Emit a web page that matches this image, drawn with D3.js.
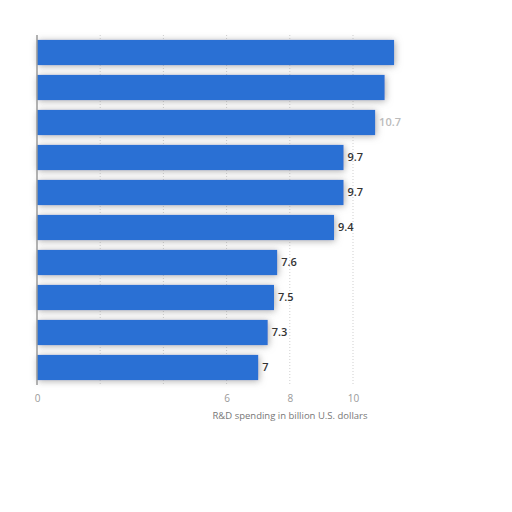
<!DOCTYPE html>
<html>
<head>
<meta charset="utf-8">
<script src="https://cdn.jsdelivr.net/npm/d3@7"></script>
<style>
  body { margin: 0; background: #fff; }
  svg { font-family: "Open Sans", "DejaVu Sans", sans-serif; }
</style>
</head>
<body>
<div id="chart"></div>
<script>
// chart data
const ranks = ["1", "2", "3", "4", "5", "6", "7", "8", "9", "10"];
const spending = [11.3, 11.0, 10.7, 9.7, 9.7, 9.4, 7.6, 7.5, 7.3, 7];
const shownLabels = [false, false, true, true, true, true, true, true, true, true];
const gridValues = [0, 2, 4, 6, 8, 10];
const tickLabels = [0, 6, 8, 10];
const axisTitle = "R&D spending in billion U.S. dollars";

const width = 512;
const height = 512;

const rows = spending.map((v, i) => ({ rank: ranks[i], value: v, label: shownLabels[i], i: i }));

const svg = d3.select("#chart")
    .append("svg")
    .attr("width", width)
    .attr("height", height);

// soft grey shadow under the bars
const defs = svg.append("defs");
const shadow = defs.append("filter")
    .attr("id", "shadow")
    .attr("x", "-5%").attr("y", "-50%")
    .attr("width", "115%").attr("height", "200%");
shadow.append("feDropShadow")
    .attr("dx", 1).attr("dy", 1)
    .attr("stdDeviation", 3.5)
    .attr("flood-color", "#888")
    .attr("flood-opacity", 0.7);

const xScale = d3.scaleLinear()
    .domain([0, 10])
    .range([37, 353]);

const yScale = d3.scaleBand()
    .domain(ranks)
    .range([35, 385])
    .paddingInner(0.28)
    .paddingOuter(0.14);

// gridlines
svg.append("g")
    .selectAll("line")
    .data(gridValues.slice(1))
    .enter()
    .append("line")
    .attr("x1", d => xScale(d))
    .attr("x2", d => xScale(d))
    .attr("y1", 35)
    .attr("y2", 385)
    .attr("stroke", "#cfcfcf")
    .attr("stroke-dasharray", "1,2");

// bars
svg.append("g")
    .selectAll("rect")
    .data(rows)
    .enter()
    .append("rect")
    .attr("x", xScale(0))
    .attr("y", d => yScale(d.rank))
    .attr("width", d => xScale(d.value) - xScale(0))
    .attr("height", yScale.bandwidth())
    .attr("fill", "#2a6fd4")
    .attr("filter", "url(#shadow)");

// value labels
svg.append("g")
    .selectAll("text")
    .data(rows.filter(d => d.label))
    .enter()
    .append("text")
    .attr("x", d => xScale(d.value) + 4)
    .attr("y", d => yScale(d.rank) + yScale.bandwidth() / 2)
    .attr("dy", "0.35em")
    .attr("font-size", 11)
    .attr("font-weight", 600)
    .attr("fill", d => d.i < 3 ? "#bbb" : "#333")
    .text(d => d.value);

// y axis line
svg.append("line")
    .attr("x1", xScale(0))
    .attr("x2", xScale(0))
    .attr("y1", 35)
    .attr("y2", 385)
    .attr("stroke", "#999")
    .attr("stroke-width", 1.5);

// x axis tick labels
const xAxis = d3.axisBottom(xScale)
    .tickValues(tickLabels)
    .tickSize(0)
    .tickPadding(0)
    .tickFormat(d3.format("d"));

const xAxisG = svg.append("g")
    .attr("transform", "translate(0, 395)")
    .call(xAxis);
xAxisG.select(".domain").remove();
xAxisG.selectAll("text")
    .attr("font-size", 10)
    .attr("fill", "#999")
    .attr("font-family", "\"Open Sans\", sans-serif");

// axis title
svg.append("text")
    .attr("x", 290)
    .attr("y", 419)
    .attr("text-anchor", "middle")
    .attr("font-size", 9.5)
    .attr("fill", "#777")
    .text(axisTitle);
</script>
</body>
</html>
